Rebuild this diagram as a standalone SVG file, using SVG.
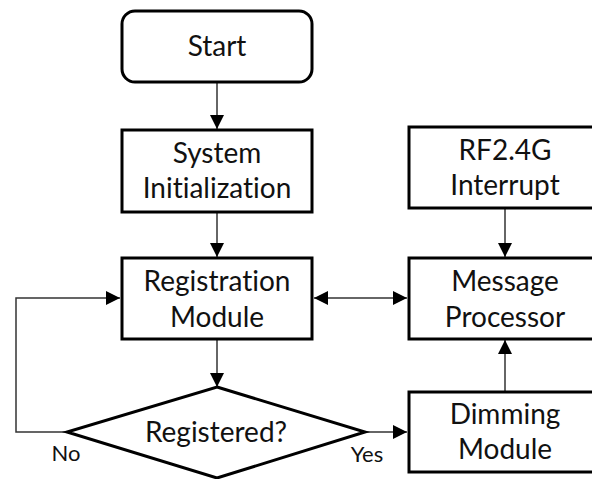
<svg xmlns="http://www.w3.org/2000/svg" width="592" height="479" viewBox="0 0 592 479">
<style>
.box{fill:#fff;stroke:#000;stroke-width:3}
.t{font-family:Lato,"Open Sans","Liberation Sans",sans-serif;font-size:28px;fill:#111;text-anchor:middle;font-variant-ligatures:none}
.lbl{font-family:Lato,"Open Sans","Liberation Sans",sans-serif;font-size:22px;fill:#111;text-anchor:middle}
.c{fill:none;stroke:#333;stroke-width:1.5}
</style>
<defs>
<marker id="ah" viewBox="0 0 10 10" refX="10" refY="5" markerWidth="14" markerHeight="14" markerUnits="userSpaceOnUse" orient="auto-start-reverse">
<path d="M0,0 L10,5 L0,10 Z" fill="#000"/>
</marker>
</defs>
<rect width="592" height="479" fill="#fff"/>
<g id="connectors">
<line class="c" x1="217" y1="83" x2="217" y2="129" marker-end="url(#ah)"/>
<line class="c" x1="217" y1="213" x2="217" y2="257" marker-end="url(#ah)"/>
<line class="c" x1="217" y1="340" x2="217" y2="387" marker-end="url(#ah)"/>
<polyline class="c" points="67,432 16,432 16,298 120,298" marker-end="url(#ah)"/>
<line class="c" x1="314" y1="298" x2="407" y2="298" marker-start="url(#ah)" marker-end="url(#ah)"/>
<line class="c" x1="505" y1="209" x2="505" y2="257" marker-end="url(#ah)"/>
<line class="c" x1="505" y1="391" x2="505" y2="340" marker-end="url(#ah)"/>
<line class="c" x1="365" y1="432" x2="407" y2="432" marker-end="url(#ah)"/>
</g>
<g id="start">
<rect class="box" x="122" y="11" width="190" height="71" rx="13"/>
<text class="t" x="217" y="56">Start</text>
</g>
<g id="sysinit">
<rect class="box" x="122" y="130" width="190" height="82"/>
<text class="t" x="217" y="163">System</text>
<text class="t" x="217" y="198">Initialization</text>
</g>
<g id="rf">
<rect class="box" x="409" y="127" width="192" height="81"/>
<text class="t" x="505" y="160">RF2.4G</text>
<text class="t" x="505" y="195">Interrupt</text>
</g>
<g id="registration">
<rect class="box" x="122" y="258" width="190" height="81"/>
<text class="t" x="217" y="291">Registration</text>
<text class="t" x="217" y="327">Module</text>
</g>
<g id="message">
<rect class="box" x="409" y="258" width="192" height="81"/>
<text class="t" x="505" y="291">Message</text>
<text class="t" x="505" y="327">Processor</text>
</g>
<g id="registered">
<polygon class="box" points="217,387 365,432 217,478 67,432"/>
<text class="t" x="216" y="442">Registered?</text>
<text class="lbl" x="66" y="461">No</text>
<text class="lbl" x="367" y="462">Yes</text>
</g>
<g id="dimming">
<rect class="box" x="409" y="392" width="192" height="80"/>
<text class="t" x="505" y="424">Dimming</text>
<text class="t" x="505" y="459">Module</text>
</g>
</svg>
